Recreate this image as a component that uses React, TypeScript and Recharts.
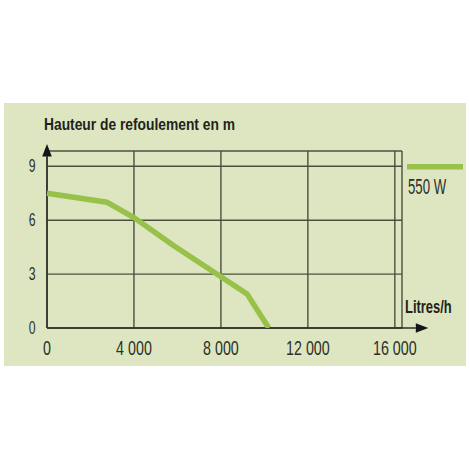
import React from 'react';
import {
  LineChart,
  Line,
  XAxis,
  YAxis,
  CartesianGrid,
  ReferenceLine,
  Legend,
  Label,
} from 'recharts';

const flowLitres = [0, 2750, 4000, 5800, 8000, 9200, 10200];
const head550W = [7.5, 7.0, 6.15, 4.6, 2.85, 1.9, 0];
const xTicks = [0, 4000, 8000, 12000, 16000];
const xTickLabels = ['0', '4 000', '8 000', '12 000', '16 000'];
const yTicks = [0, 3, 6, 9];
const yTickLabels = ['0', '3', '6', '9'];
const seriesName = '550 W';
const yTitle = 'Hauteur de refoulement en m';
const xTitle = 'Litres/h';

const data = flowLitres.map((x, i) => ({ x, y: head550W[i] }));

const GRID = '#4a5040';
const AXIS = '#2a2e24';
const LINE = '#98c14a';
const TEXT = '#2c3027';
const FONT = "'Liberation Sans', Arial, sans-serif";

const XTick = (props: any) => {
  const { x, y, payload } = props;
  const i = xTicks.indexOf(payload.value);
  return (
    <g transform={`translate(${x},${y + 27})`}>
      <text
        x={0}
        y={0}
        textAnchor="middle"
        transform="scale(0.68,1)"
        fontSize={21}
        fontFamily={FONT}
        fill={TEXT}
      >
        {i >= 0 ? xTickLabels[i] : payload.value}
      </text>
    </g>
  );
};

const YTick = (props: any) => {
  const { x, y, payload } = props;
  const i = yTicks.indexOf(payload.value);
  return (
    <g transform={`translate(${x - 11.5},${y + 6})`}>
      <text
        x={0}
        y={0}
        textAnchor="end"
        transform="scale(0.7,1)"
        fontSize={17.5}
        fontFamily={FONT}
        fill={TEXT}
      >
        {i >= 0 ? yTickLabels[i] : payload.value}
      </text>
    </g>
  );
};

// Axis line with arrowhead at its far end (x2, y2)
const ArrowLine = (p: any) => {
  const x1 = Number(p.x1);
  const y1 = Number(p.y1);
  const x2 = Number(p.x2);
  const y2 = Number(p.y2);
  const dx = x2 - x1;
  const dy = y2 - y1;
  const len = Math.sqrt(dx * dx + dy * dy) || 1;
  const ux = dx / len;
  const uy = dy / len;
  const hl = 12.5;
  const hw = 4.8;
  const bx = x2 - ux * hl;
  const by = y2 - uy * hl;
  return (
    <g>
      <line x1={x1} y1={y1} x2={bx} y2={by} stroke={AXIS} strokeWidth={1.5} />
      <path
        d={`M${x2},${y2} L${bx - uy * hw},${by + ux * hw} L${bx + uy * hw},${by - ux * hw} Z`}
        fill="#151515"
      />
    </g>
  );
};

const LegendContent = () => (
  <svg width={58} height={40} style={{ display: 'block', overflow: 'visible' }}>
    <rect x={0} y={0} width={56} height={5.5} fill={LINE} />
    <g transform="translate(1,30) scale(0.6,1)">
      <text x={0} y={0} fontSize={22} fontFamily={FONT} fill={TEXT}>
        {seriesName}
      </text>
    </g>
  </svg>
);

export default function App() {
  return (
    <div
      style={{
        position: 'fixed',
        left: 0,
        top: 0,
        width: 470,
        height: 470,
        background: '#ffffff',
      }}
    >
      <div
        style={{
          position: 'absolute',
          left: 4,
          top: 103,
          width: 462,
          height: 263,
          background: '#dde6c1',
        }}
      />
      <div style={{ position: 'absolute', left: 0, top: 0 }}>
        <LineChart
          width={470}
          height={470}
          data={data}
          margin={{ top: 151, right: 68, bottom: 112, left: 0 }}
        >
          <CartesianGrid stroke={GRID} strokeWidth={1.4} fill="none" />
          <XAxis
            dataKey="x"
            type="number"
            domain={[0, 16330]}
            ticks={xTicks}
            interval={0}
            axisLine={false}
            tickLine={false}
            tickSize={0}
            tickMargin={0}
            height={30}
            tick={<XTick />}
          >
            <Label
              content={(p: any) => {
                const vb = p.viewBox || { x: 47, y: 328, width: 355 };
                return (
                  <g transform={`translate(${vb.x + vb.width + 3},${vb.y - 15}) scale(0.72,1)`}>
                    <text
                      x={0}
                      y={0}
                      fontSize={18}
                      fontWeight="bold"
                      fontFamily={FONT}
                      fill="#1f231c"
                    >
                      {xTitle}
                    </text>
                  </g>
                );
              }}
            />
          </XAxis>
          <YAxis
            type="number"
            domain={[0, 9.85]}
            ticks={yTicks}
            interval={0}
            allowDataOverflow
            axisLine={false}
            tickLine={false}
            tickSize={0}
            tickMargin={0}
            width={47}
            tick={<YTick />}
          >
            <Label
              content={(p: any) => {
                const vb = p.viewBox || { x: 0, y: 151 };
                return (
                  <text
                    x={44}
                    y={vb.y - 21}
                    fontSize={16.5}
                    fontWeight="bold"
                    fontFamily={FONT}
                    fill="#1f231c"
                    textLength={191}
                    lengthAdjust="spacingAndGlyphs"
                  >
                    {yTitle}
                  </text>
                );
              }}
            />
          </YAxis>
          <ReferenceLine
            segment={[
              { x: 0, y: 0 },
              { x: 17540, y: 0 },
            ]}
            ifOverflow="visible"
            stroke={AXIS}
            shape={ArrowLine}
          />
          <ReferenceLine
            segment={[
              { x: 0, y: 0 },
              { x: 0, y: 10.24 },
            ]}
            ifOverflow="visible"
            stroke={AXIS}
            shape={ArrowLine}
          />
          <Line
            type="linear"
            dataKey="y"
            name={seriesName}
            stroke={LINE}
            strokeWidth={5.5}
            dot={false}
            isAnimationActive={false}
          />
          <Legend
            layout="vertical"
            align="center"
            verticalAlign="middle"
            content={<LegendContent />}
            wrapperStyle={{ left: 407, top: 164, width: 58, height: 40 }}
          />
        </LineChart>
      </div>
    </div>
  );
}
